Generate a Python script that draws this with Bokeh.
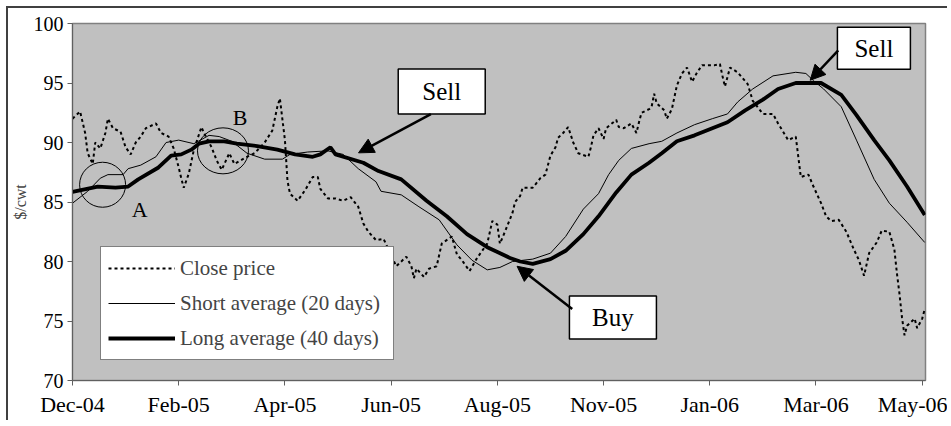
from bokeh.plotting import figure
from bokeh.models import Range1d, FixedTicker, Legend, LegendItem, Arrow, NormalHead, ColumnDataSource
from bokeh.core.properties import value
from bokeh.embed import file_html
from bokeh.resources import INLINE

# ---- data (trading-day index, $/cwt) ----
tick_days = [0, 42, 84, 126, 168, 210, 252, 294, 336]
tick_labels = ["Dec-04", "Feb-05", "Apr-05", "Jun-05", "Aug-05", "Nov-05", "Jan-06", "Mar-06", "May-06"]

close_day = [0,3,5,6,8,9,11,13,14,16,19,21,23,25,27,29,33,35,38,40,42,43,44,46,48,51,52,55,57,59,
             62,64,69,72,76,79,81,82,84,85,86,89,92,95,97,98,101,104,107,110,113,115,117,120,123,125,128,132,134,135,
             136,139,141,144,146,150,152,154,157,160,164,166,168,169,171,174,175,177,178,182,185,187,188,189,191,192,194,196,198,200,
             204,205,206,208,210,211,215,216,218,221,223,224,225,228,229,230,231,234,235,237,238,239,241,243,245,247,249,254,256,257,
             258,260,263,267,269,273,277,279,281,283,286,287,288,291,293,296,298,300,303,306,309,311,313,315,318,320,323,325,326,327,
             328,329,330,333,334,336,337]
close_val = [92.0,92.6,90.8,89.1,88.2,90.0,89.5,90.8,92.0,91.2,90.9,89.6,89.0,90.0,90.5,91.2,91.6,90.8,90.5,89.5,
             87.9,87.0,86.2,87.4,89.4,91.3,90.8,89.6,88.5,87.7,89.1,88.2,88.8,89.1,90.0,91.0,93.0,93.7,90.2,86.8,
             85.7,85.1,86.0,87.1,87.1,86.1,85.3,85.3,85.1,85.4,84.6,83.2,82.5,81.8,81.9,81.0,79.6,80.4,79.6,78.6,
             79.4,78.7,79.4,79.6,81.5,82.1,80.6,80.1,79.2,80.3,81.5,83.4,83.1,81.5,82.5,84.1,85.0,85.5,86.2,86.2,
             87.0,87.3,88.1,88.9,89.6,90.4,90.8,91.3,90.0,89.1,88.8,89.6,90.6,91.2,90.3,91.2,91.9,91.3,91.2,91.6,
             90.8,91.7,92.5,92.8,93.0,94.1,93.3,92.7,92.0,92.8,93.8,94.8,95.8,96.3,95.1,95.9,96.5,96.5,96.6,95.6,
             94.7,96.3,95.9,94.9,93.5,92.4,92.4,91.6,90.9,90.2,90.5,88.8,87.1,87.3,86.3,84.9,83.8,83.4,83.5,82.5,
             81.0,80.1,78.8,80.7,81.6,82.6,82.5,81.0,79.0,77.3,75.3,73.8,74.6,75.2,74.4,75.2,76.0]

short_day = [0,6,11,14,20,22,27,33,37,42,48,54,58,63,69,76,83,86,93,101,107,113,120,122,130,137,145,152,158,164,
             169,174,182,189,195,202,208,212,216,221,228,233,239,246,253,259,263,269,277,286,290,293,297,304,310,317,323,330,337]
short_val = [84.9,85.9,87.0,87.3,87.3,87.8,88.1,88.8,90.0,90.2,89.9,90.6,90.5,90.1,89.1,88.6,88.6,89.0,89.2,89.3,
             89.0,87.8,86.7,85.9,85.6,84.6,83.5,81.4,80.1,79.3,79.5,80.0,80.2,80.7,82.1,84.4,85.7,87.3,88.5,89.5,
             89.9,90.1,90.8,91.5,92.0,92.4,93.4,94.5,95.6,95.9,95.8,95.2,94.5,93.0,90.2,86.9,84.9,83.3,81.6]

long_day = [0,10,17,22,26,34,39,43,47,50,54,60,65,73,81,88,95,98,102,104,115,121,130,140,148,156,164,173,177,182,
            189,195,202,208,215,221,228,233,239,246,253,259,266,273,279,286,296,304,310,317,323,330,337]
long_val = [85.85,86.3,86.2,86.3,86.9,87.9,88.9,89.0,89.4,89.9,90.1,90.1,89.9,89.7,89.4,89.0,88.8,89.0,89.6,89.0,
            88.3,87.6,86.9,85.1,83.8,82.3,81.2,80.3,80.0,79.8,80.2,80.9,82.3,83.8,85.8,87.3,88.3,89.1,90.1,90.6,
            91.2,91.7,92.7,93.6,94.5,95.0,95.0,94.0,92.3,90.2,88.5,86.3,83.9]

# annotations
box_x = [146.0, 316.9, 213.7]
box_y = [94.28, 97.91, 75.29]
box_w = [87, 73, 87]
box_h = [45, 42, 43]
box_text = ["Sell", "Sell", "Buy"]
arrow_x0 = [141.7, 302.8, 197.6]
arrow_y0 = [92.39, 97.74, 76.0]
arrow_x1 = [113.1, 291.7, 175.8]
arrow_y1 = [89.13, 95.23, 79.6]
circ_x = [11.9, 59.5]
circ_y = [86.45, 89.3]
circ_w = [46, 51]
circ_h = [45, 46]
lab_x = [26.6, 66.3]
lab_y = [84.36, 92.14]
lab_text = ["A", "B"]

FONT = "Liberation Serif"

p = figure(width=941, height=414, x_range=Range1d(0, 337.3), y_range=Range1d(70, 100),
           output_backend="svg", toolbar_location=None,
           min_border_left=60, min_border_top=15, min_border_right=24, min_border_bottom=42)
p.styles = {"border-top": "2px solid #404040", "border-left": "2px solid #404040",
            "margin-top": "6px", "margin-left": "6px"}
p.background_fill_color = "#C0C0C0"
p.border_fill_color = "white"
p.outline_line_color = "#808080"
p.outline_line_width = 1.5
p.grid.visible = False

p.xaxis.ticker = FixedTicker(ticks=tick_days)
p.xaxis.major_label_overrides = {d: l for d, l in zip(tick_days, tick_labels)}
p.yaxis.ticker = FixedTicker(ticks=[70, 75, 80, 85, 90, 95, 100])
for ax in (p.xaxis, p.yaxis):
    ax.minor_tick_line_color = None
    ax.axis_line_color = "#606060"
    ax.major_tick_line_color = "#606060"
    ax.major_tick_out = 5
    ax.major_tick_in = 0
    ax.major_label_text_font = FONT
    ax.major_label_text_color = "black"
p.xaxis.major_label_text_font_size = "22px"
p.yaxis.major_label_text_font_size = "20px"
p.xaxis.major_label_standoff = 6
p.yaxis.major_label_standoff = 4
p.yaxis.axis_label = "$/cwt"
p.yaxis.axis_label_text_font = FONT
p.yaxis.axis_label_text_font_size = "16px"
p.yaxis.axis_label_text_font_style = "normal"
p.yaxis.axis_label_standoff = 2

r_close = p.line(close_day, close_val, line_color="black", line_width=2, line_dash="3 3")
r_short = p.line(short_day, short_val, line_color="black", line_width=1)
r_long = p.line(long_day, long_val, line_color="black", line_width=3.8)

p.ellipse(x=circ_x, y=circ_y, width=circ_w, height=circ_h, width_units="screen", height_units="screen",
          fill_color=None, line_color="black", line_width=1)
p.text(x=lab_x, y=lab_y, text=lab_text, text_align="center", text_baseline="middle",
       text_font=value(FONT), text_font_size="22px", text_color="black")

src = ColumnDataSource(dict(x0=arrow_x0, y0=arrow_y0, x1=arrow_x1, y1=arrow_y1))
p.add_layout(Arrow(end=NormalHead(size=15, fill_color="black", line_color="black"),
                   x_start="x0", y_start="y0", x_end="x1", y_end="y1", source=src,
                   line_width=2.5, line_color="black"))

p.rect(x=box_x, y=box_y, width=box_w, height=box_h, width_units="screen", height_units="screen",
       fill_color="white", line_color="black", line_width=1.5)
p.text(x=box_x, y=box_y, text=box_text, text_align="center", text_baseline="middle",
       text_font=value(FONT), text_font_size="25px", text_color="black")

legend = Legend(items=[LegendItem(label="Close price", renderers=[r_close]),
                       LegendItem(label="Short average (20 days)", renderers=[r_short]),
                       LegendItem(label="Long average (40 days)", renderers=[r_long])],
                location=(28, 20))
legend.label_text_font = FONT
legend.label_text_font_size = "21px"
legend.glyph_width = 67
legend.glyph_height = 28
legend.label_height = 28
legend.label_width = 206
legend.label_standoff = 5
legend.spacing = 7
legend.padding = 7
legend.margin = 0
legend.border_line_color = "black"
legend.border_line_width = 1
legend.background_fill_color = "white"
legend.background_fill_alpha = 1
p.add_layout(legend)

open("out.html", "w").write(file_html(p, INLINE))
